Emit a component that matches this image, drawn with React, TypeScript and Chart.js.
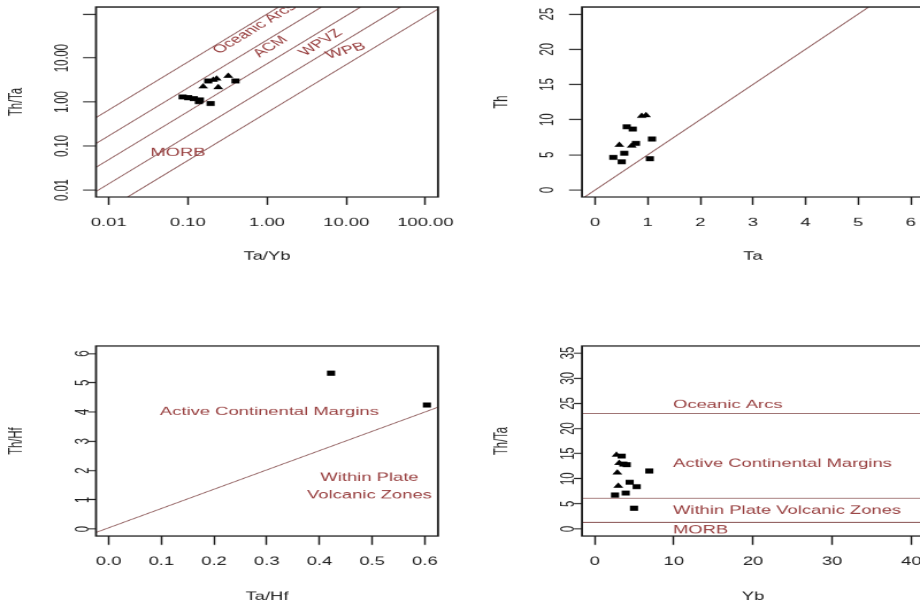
import React, { useEffect, useRef } from "react";
import { Chart, registerables } from "chart.js";

Chart.register(...registerables);

// The reference picture is an R plot that was stretched unevenly: drawn on a
// canvas of internal pixels, then shown wider (SX) and flatter (SY).
const SX = 1.15;
const SY = 0.7;
const FONT_FAMILY = '"Liberation Sans", Arial, Helvetica, sans-serif';
const FONT_SIZE = 16;
const INK = "#1c1c1c";
const BOUNDARY_COLOR = "#8a5555";
const ZONE_TEXT_COLOR = "#963c3c";

// ---------------- Panel A: Th/Ta vs Ta/Yb (log-log) ----------------
const A_SQ_TAYB = [0.086, 0.101, 0.119, 0.138, 0.142, 0.194, 0.181, 0.4];
const A_SQ_THTA = [1.3, 1.25, 1.2, 1.02, 1.11, 0.93, 3.0, 3.0];
const A_TRI_TAYB = [0.156, 0.242, 0.231, 0.324, 0.209];
const A_TRI_THTA = [2.23, 2.16, 3.39, 3.9, 3.16];
const A_BOUNDARY_LOG_INTERCEPTS = [2.0, 1.41, 0.87, 0.32, -0.24];
const A_BOUNDARY_SLOPE = 1.09;
const A_BOUNDARY_TAYB = [0.004, 300];
const A_X_TICKS = [0.01, 0.1, 1, 10, 100];
const A_X_LABELS = ["0.01", "0.10", "1.00", "10.00", "100.00"];
const A_Y_TICKS = [0.01, 0.1, 1, 10, 100];
const A_Y_LABELS = ["0.01", "0.10", "1.00", "10.00", ""];

// ---------------- Panel B: Th vs Ta ----------------
const B_SQ_TA = [0.345, 0.505, 0.554, 0.6, 0.714, 0.776, 1.08, 1.04];
const B_SQ_TH = [4.64, 4.02, 5.21, 8.99, 8.66, 6.63, 7.24, 4.44];
const B_TRI_TA = [0.459, 0.885, 0.966, 0.695];
const B_TRI_TH = [6.39, 10.51, 10.61, 6.29];
const B_LINE_TA = [-1, 8];
const B_LINE_TH = [-5, 40];
const B_X_TICKS = [0, 1, 2, 3, 4, 5, 6];
const B_X_LABELS = ["0", "1", "2", "3", "4", "5", "6"];
const B_Y_TICKS = [0, 5, 10, 15, 20, 25];
const B_Y_LABELS = ["0", "5", "10", "15", "20", "25"];

// ---------------- Panel C: Th/Hf vs Ta/Hf ----------------
const C_SQ_TAHF = [0.422, 0.604];
const C_SQ_THHF = [5.33, 4.24];
const C_LINE_TAHF = [-0.05, 0.7];
const C_LINE_THHF = [-0.29, 4.66];
const C_X_TICKS = [0, 0.1, 0.2, 0.3, 0.4, 0.5, 0.6];
const C_X_LABELS = ["0.0", "0.1", "0.2", "0.3", "0.4", "0.5", "0.6"];
const C_Y_TICKS = [0, 1, 2, 3, 4, 5, 6];
const C_Y_LABELS = ["0", "1", "2", "3", "4", "5", "6"];

// ---------------- Panel D: Th/Ta vs Yb ----------------
const D_SQ_YB = [3.41, 3.62, 4.05, 2.57, 3.92, 4.42, 5.31, 6.9, 4.97];
const D_SQ_THTA = [14.5, 12.9, 12.8, 6.76, 7.15, 9.28, 8.41, 11.53, 4.11];
const D_TRI_YB = [2.75, 2.86, 2.98, 3.1];
const D_TRI_THTA = [14.7, 11.2, 8.55, 13.1];
const D_BOUNDARY_THTA = [23, 6.1, 1.3];
const D_BOUNDARY_YB = [-5, 60];
const D_X_TICKS = [0, 10, 20, 30, 40];
const D_X_LABELS = ["0", "10", "20", "30", "40"];
const D_Y_TICKS = [0, 5, 10, 15, 20, 25, 30, 35];
const D_Y_LABELS = ["0", "5", "10", "15", "20", "25", "30", "35"];

// ---------------- helpers ----------------
type Txt = { text: string; x: number; y: number; rot?: number; align?: CanvasTextAlign };

function pts(xs: number[], ys: number[]) {
  return xs.map((x, i) => ({ x, y: ys[i] }));
}

function markers(sx: number[], sy: number[], tx: number[], ty: number[]) {
  const sets: any[] = [
    {
      label: "squares",
      data: pts(sx, sy),
      pointStyle: "rect",
      pointRadius: 5,
      backgroundColor: "#000",
      borderColor: "#000",
      borderWidth: 0,
      order: 0,
    },
  ];
  if (tx.length) {
    sets.push({
      label: "triangles",
      data: pts(tx, ty),
      pointStyle: "triangle",
      pointRadius: 5,
      backgroundColor: "#000",
      borderColor: "#000",
      borderWidth: 0,
      order: 0,
    });
  }
  return sets;
}

function boundary(xs: number[], ys: number[]) {
  return {
    label: "boundary",
    data: pts(xs, ys),
    showLine: true,
    pointRadius: 0,
    borderColor: BOUNDARY_COLOR,
    borderWidth: 1.15,
    fill: false,
    order: 1,
  };
}

function pageAngleToInternal(deg: number) {
  const r = (deg * Math.PI) / 180;
  return Math.atan((Math.tan(r) * SX) / SY);
}

type Spec = {
  left: number;
  top: number;
  iw: number;
  ih: number;
  box: [number, number, number, number];
  xType: string;
  yType: string;
  xMin: number;
  xMax: number;
  yMin: number;
  yMax: number;
  xTicks: number[];
  xLabels: string[];
  yTicks: number[];
  yLabels: string[];
  xTitle: string;
  yTitle: string;
  xTickLen: number;
  yTickLen: number;
  xLabelGap: number;
  xTitleGap: number;
  yLabelGap: number;
  yTitleGap: number;
  datasets: any[];
  texts: Txt[];
};

function makeConfig(s: Spec): any {
  const boxL = (s.box[0] - s.left) / SX;
  const boxT = (s.box[1] - s.top) / SY;
  const boxR = (s.box[2] - s.left) / SX;
  const boxB = (s.box[3] - s.top) / SY;

  const scale = (axis: "x" | "y") => ({
    type: axis === "x" ? s.xType : s.yType,
    position: axis === "x" ? "bottom" : "left",
    min: axis === "x" ? s.xMin : s.yMin,
    max: axis === "x" ? s.xMax : s.yMax,
    bounds: "data",
    afterBuildTicks: (sc: any) => {
      const t = axis === "x" ? s.xTicks : s.yTicks;
      sc.ticks = t.map((v) => ({ value: v }));
    },
    afterFit: (sc: any) => {
      if (axis === "x") sc.height = s.ih - boxB;
      else sc.width = boxL;
    },
    ticks: { display: false },
    grid: {
      display: true,
      drawOnChartArea: false,
      drawTicks: true,
      tickLength: axis === "x" ? s.xTickLen : s.yTickLen,
      tickColor: INK,
      tickWidth: 1.5,
      color: INK,
    },
    border: { display: false },
    title: { display: false },
  });

  const decor = {
    id: "decor",
    afterDatasetsDraw(chart: any) {
      const { ctx, chartArea: a, scales } = chart;
      ctx.save();
      ctx.beginPath();
      ctx.rect(a.left, a.top, a.right - a.left, a.bottom - a.top);
      ctx.clip();
      ctx.fillStyle = ZONE_TEXT_COLOR;
      ctx.font = `${FONT_SIZE}px ${FONT_FAMILY}`;
      ctx.textBaseline = "middle";
      for (const t of s.texts) {
        const px = scales.x.getPixelForValue(t.x);
        const py = scales.y.getPixelForValue(t.y);
        ctx.save();
        ctx.translate(px, py);
        ctx.rotate(-pageAngleToInternal(t.rot || 0));
        ctx.textAlign = t.align || "center";
        ctx.fillText(t.text, 0, 0);
        ctx.restore();
      }
      ctx.restore();
    },
    afterDraw(chart: any) {
      const { ctx, chartArea: a, scales } = chart;
      ctx.save();
      ctx.strokeStyle = INK;
      ctx.lineWidth = 1.8;
      ctx.strokeRect(a.left, a.top, a.right - a.left, a.bottom - a.top);
      ctx.fillStyle = INK;
      ctx.font = `${FONT_SIZE}px ${FONT_FAMILY}`;
      ctx.textBaseline = "middle";
      ctx.textAlign = "center";
      s.xTicks.forEach((v, i) => {
        const lbl = s.xLabels[i];
        if (!lbl) return;
        ctx.fillText(lbl, scales.x.getPixelForValue(v), a.bottom + s.xLabelGap);
      });
      s.yTicks.forEach((v, i) => {
        const lbl = s.yLabels[i];
        if (!lbl) return;
        ctx.save();
        ctx.translate(a.left - s.yLabelGap, scales.y.getPixelForValue(v));
        ctx.rotate(-Math.PI / 2);
        ctx.fillText(lbl, 0, 0);
        ctx.restore();
      });
      ctx.fillText(s.xTitle, (a.left + a.right) / 2, a.bottom + s.xTitleGap);
      ctx.save();
      ctx.translate(a.left - s.yTitleGap, (a.top + a.bottom) / 2);
      ctx.rotate(-Math.PI / 2);
      ctx.fillText(s.yTitle, 0, 0);
      ctx.restore();
      ctx.restore();
    },
  };

  return {
    type: "scatter",
    data: { datasets: s.datasets },
    options: {
      responsive: false,
      animation: false,
      devicePixelRatio: 1,
      events: [],
      layout: { padding: { left: 0, top: boxT, right: s.iw - boxR, bottom: 0 } },
      plugins: { legend: { display: false }, tooltip: { enabled: false }, title: { display: false } },
      scales: { x: scale("x"), y: scale("y") },
    },
    plugins: [decor],
  };
}

const TOP_ROW = { xTickLen: 11.4, yTickLen: 11.3, xLabelGap: 36.7, xTitleGap: 85.3, yLabelGap: 29.2, yTitleGap: 69 };
const BOTTOM_ROW = { xTickLen: 12.6, yTickLen: 7, xLabelGap: 36.7, xTitleGap: 86.7, yLabelGap: 11, yTitleGap: 69 };

const SPECS: Spec[] = [
  {
    left: 0,
    top: 0,
    iw: 400,
    ih: 430,
    box: [96, 7, 438, 197],
    xType: "logarithmic",
    yType: "logarithmic",
    xMin: Math.pow(10, -2.16),
    xMax: Math.pow(10, 2.16),
    yMin: Math.pow(10, -2.16),
    yMax: Math.pow(10, 2.16),
    xTicks: A_X_TICKS,
    xLabels: A_X_LABELS,
    yTicks: A_Y_TICKS,
    yLabels: A_Y_LABELS,
    xTitle: "Ta/Yb",
    yTitle: "Th/Ta",
    ...TOP_ROW,
    datasets: [
      ...A_BOUNDARY_LOG_INTERCEPTS.map((c) =>
        boundary(
          A_BOUNDARY_TAYB,
          A_BOUNDARY_TAYB.map((x) => Math.pow(10, c + A_BOUNDARY_SLOPE * Math.log10(x)))
        )
      ),
      ...markers(A_SQ_TAYB, A_SQ_THTA, A_TRI_TAYB, A_TRI_THTA),
    ],
    texts: [
      { text: "Oceanic Arcs", x: 0.7, y: 47, rot: 31 },
      { text: "ACM", x: 1.11, y: 18.1, rot: 31 },
      { text: "WPVZ", x: 4.77, y: 22.5, rot: 31 },
      { text: "WPB", x: 9.87, y: 14.6, rot: 15 },
      { text: "MORB", x: 0.075, y: 0.069, rot: 0 },
    ],
  },
  {
    left: 460,
    top: 0,
    iw: 420,
    ih: 430,
    box: [582, 7, 924, 197],
    xType: "linear",
    yType: "linear",
    xMin: -0.25,
    xMax: 6.25,
    yMin: -1,
    yMax: 26,
    xTicks: B_X_TICKS,
    xLabels: B_X_LABELS,
    yTicks: B_Y_TICKS,
    yLabels: B_Y_LABELS,
    xTitle: "Ta",
    yTitle: "Th",
    ...TOP_ROW,
    datasets: [boundary(B_LINE_TA, B_LINE_TH), ...markers(B_SQ_TA, B_SQ_TH, B_TRI_TA, B_TRI_TH)],
    texts: [],
  },
  {
    left: 0,
    top: 301,
    iw: 400,
    ih: 440,
    box: [96, 346, 438, 536],
    xType: "linear",
    yType: "linear",
    xMin: -0.024,
    xMax: 0.625,
    yMin: -0.24,
    yMax: 6.26,
    xTicks: C_X_TICKS,
    xLabels: C_X_LABELS,
    yTicks: C_Y_TICKS,
    yLabels: C_Y_LABELS,
    xTitle: "Ta/Hf",
    yTitle: "Th/Hf",
    ...BOTTOM_ROW,
    datasets: [boundary(C_LINE_TAHF, C_LINE_THHF), ...markers(C_SQ_TAHF, C_SQ_THHF, [], [])],
    texts: [
      { text: "Active Continental Margins", x: 0.305, y: 4.0 },
      { text: "Within Plate", x: 0.495, y: 1.74 },
      { text: "Volcanic Zones", x: 0.495, y: 1.16 },
    ],
  },
  {
    left: 460,
    top: 301,
    iw: 420,
    ih: 440,
    box: [582, 346, 924, 536],
    xType: "linear",
    yType: "linear",
    xMin: -1.6,
    xMax: 41.6,
    yMin: -1.4,
    yMax: 36.4,
    xTicks: D_X_TICKS,
    xLabels: D_X_LABELS,
    yTicks: D_Y_TICKS,
    yLabels: D_Y_LABELS,
    xTitle: "Yb",
    yTitle: "Th/Ta",
    ...BOTTOM_ROW,
    datasets: [
      ...D_BOUNDARY_THTA.map((v) => boundary(D_BOUNDARY_YB, D_BOUNDARY_YB.map(() => v))),
      ...markers(D_SQ_YB, D_SQ_THTA, D_TRI_YB, D_TRI_THTA),
    ],
    texts: [
      { text: "Oceanic Arcs", x: 9.9, y: 24.66, align: "left" },
      { text: "Active Continental Margins", x: 9.9, y: 12.92, align: "left" },
      { text: "Within Plate Volcanic Zones", x: 9.9, y: 3.63, align: "left" },
      { text: "MORB", x: 9.9, y: -0.2, align: "left" },
    ],
  },
];

function Panel({ spec }: { spec: Spec }) {
  const ref = useRef<HTMLCanvasElement | null>(null);
  useEffect(() => {
    if (!ref.current) return;
    const chart = new Chart(ref.current, makeConfig(spec));
    return () => chart.destroy();
  }, [spec]);
  return (
    <canvas
      ref={ref}
      width={spec.iw}
      height={spec.ih}
      style={{
        position: "absolute",
        left: spec.left,
        top: spec.top,
        width: spec.iw * SX,
        height: spec.ih * SY,
      }}
    />
  );
}

export default function App() {
  return (
    <div
      style={{
        position: "absolute",
        left: 0,
        top: 0,
        width: 920,
        height: 608,
        overflow: "hidden",
        background: "#ffffff",
      }}
    >
      {SPECS.map((s, i) => (
        <Panel key={i} spec={s} />
      ))}
    </div>
  );
}
